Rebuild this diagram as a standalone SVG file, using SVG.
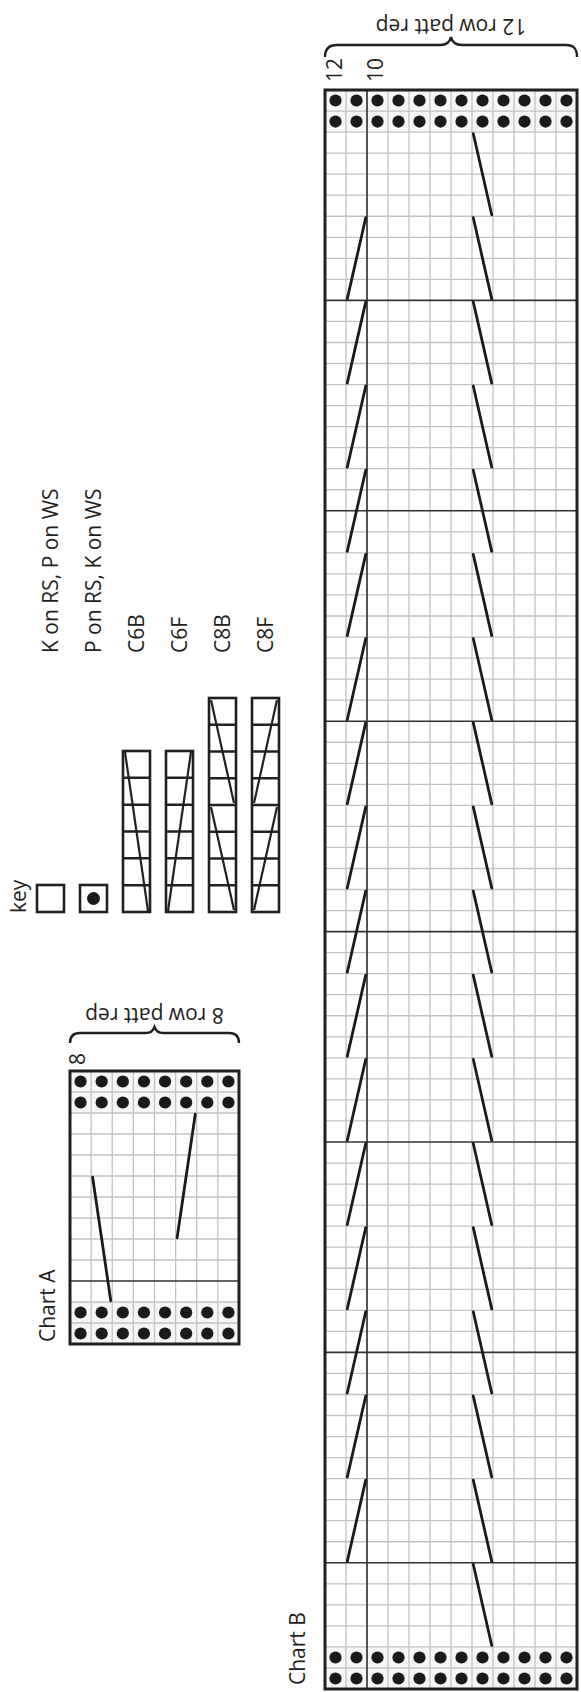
<svg xmlns="http://www.w3.org/2000/svg" width="581" height="1692" viewBox="0 0 581 1692">
<style>
text{font-family:"Open Sans","Noto Sans","Liberation Sans",sans-serif;font-size:21px;fill:#231f20}
.grid{fill:none;stroke:#c2c2c2;stroke-width:1.3}
.heavy{fill:none;stroke:#333;stroke-width:1.6}
.border{fill:none;stroke:#231f20;stroke-width:3}
.cable{fill:none;stroke:#1a1a1a;stroke-width:2.8;stroke-linecap:round}
.dot{fill:#1a1a1a}
.bg{fill:#f6f6f6}
.kbox{fill:#fff;stroke:#231f20;stroke-width:2.6}
.kline{fill:none;stroke:#231f20;stroke-width:2.6}
.kdiag{fill:none;stroke:#231f20;stroke-width:2.2}
.brace{fill:none;stroke:#231f20;stroke-width:2.4}
</style>
<defs>
<circle id="d" r="0.29" class="dot"/>
</defs>
<rect width="581" height="1692" fill="#fff"/>

<!-- Key -->
<g id="key">
<text transform="translate(26,913) rotate(-90)">key</text>
<g id="key-knit">
<rect class="kbox" x="37" y="885" width="27" height="27"/>
<text transform="translate(58,653) rotate(-90)">K on RS, P on WS</text>
</g>
<g id="key-purl">
<rect class="kbox" x="80" y="885" width="27" height="27"/>
<circle cx="93.5" cy="898.5" r="6.5" class="dot"/>
<text transform="translate(101,653) rotate(-90)">P on RS, K on WS</text>
</g>
<g id="key-c6b">
<rect class="kbox" x="123" y="751" width="27" height="161"/>
<path class="kline" d="M123,777.8H150M123,804.7H150M123,831.5H150M123,858.3H150M123,885.2H150"/>
<path class="kdiag" d="M125,752L148,911"/>
<text transform="translate(144,653) rotate(-90)">C6B</text>
</g>
<g id="key-c6f">
<rect class="kbox" x="166" y="751" width="27" height="161"/>
<path class="kline" d="M166,777.8H193M166,804.7H193M166,831.5H193M166,858.3H193M166,885.2H193"/>
<path class="kdiag" d="M191,752L168,911"/>
<text transform="translate(187,653) rotate(-90)">C6F</text>
</g>
<g id="key-c8b">
<rect class="kbox" x="209" y="698" width="27" height="214"/>
<path class="kline" d="M209,724.75H236M209,751.5H236M209,778.25H236M209,805H236M209,831.75H236M209,858.5H236M209,885.25H236"/>
<path class="kdiag" d="M211,700L234,803M211,807L234,910"/>
<text transform="translate(230,653) rotate(-90)">C8B</text>
</g>
<g id="key-c8f">
<rect class="kbox" x="252" y="698" width="27" height="214"/>
<path class="kline" d="M252,724.75H279M252,751.5H279M252,778.25H279M252,805H279M252,831.75H279M252,858.5H279M252,885.25H279"/>
<path class="kdiag" d="M277,700L254,803M277,807L254,910"/>
<text transform="translate(273,653) rotate(-90)">C8F</text>
</g>
</g>

<!-- Chart A -->
<g id="chartA-labels">
<path class="brace" d="M70,1043C70,1036 73,1033 80,1033L146,1033C151,1033 153,1031 154.5,1027C156,1031 158,1033 163,1033L229,1033C236,1033 239,1036 239,1043"/>
<text transform="translate(154.5,1008) rotate(180)" text-anchor="middle">8 row patt rep</text>
<text transform="translate(85,1065) rotate(-90)">8</text>
<text transform="translate(55,1342) rotate(-90)">Chart A</text>
</g>
<g id="chartA" transform="translate(70,1071) scale(21.125,21)">
<rect class="bg" x="0" y="0" width="8" height="2"/>
<rect class="bg" x="0" y="11" width="8" height="2"/>
<path class="grid" vector-effect="non-scaling-stroke" d="M1,0V13M2,0V13M3,0V13M4,0V13M5,0V13M6,0V13M7,0V13M0,1H8M0,2H8M0,3H8M0,4H8M0,5H8M0,6H8M0,7H8M0,8H8M0,9H8M0,11H8M0,12H8"/>
<path class="heavy" vector-effect="non-scaling-stroke" d="M0,10H8"/>
<g>
<use href="#d" x="0.5" y="0.5"/><use href="#d" x="1.5" y="0.5"/><use href="#d" x="2.5" y="0.5"/><use href="#d" x="3.5" y="0.5"/><use href="#d" x="4.5" y="0.5"/><use href="#d" x="5.5" y="0.5"/><use href="#d" x="6.5" y="0.5"/><use href="#d" x="7.5" y="0.5"/>
<use href="#d" x="0.5" y="1.5"/><use href="#d" x="1.5" y="1.5"/><use href="#d" x="2.5" y="1.5"/><use href="#d" x="3.5" y="1.5"/><use href="#d" x="4.5" y="1.5"/><use href="#d" x="5.5" y="1.5"/><use href="#d" x="6.5" y="1.5"/><use href="#d" x="7.5" y="1.5"/>
<use href="#d" x="0.5" y="11.5"/><use href="#d" x="1.5" y="11.5"/><use href="#d" x="2.5" y="11.5"/><use href="#d" x="3.5" y="11.5"/><use href="#d" x="4.5" y="11.5"/><use href="#d" x="5.5" y="11.5"/><use href="#d" x="6.5" y="11.5"/><use href="#d" x="7.5" y="11.5"/>
<use href="#d" x="0.5" y="12.5"/><use href="#d" x="1.5" y="12.5"/><use href="#d" x="2.5" y="12.5"/><use href="#d" x="3.5" y="12.5"/><use href="#d" x="4.5" y="12.5"/><use href="#d" x="5.5" y="12.5"/><use href="#d" x="6.5" y="12.5"/><use href="#d" x="7.5" y="12.5"/>
</g>
<path class="cable" vector-effect="non-scaling-stroke" d="M5.93,2.06L5.07,7.94M1.07,5.06L1.93,10.94"/>
<rect class="border" vector-effect="non-scaling-stroke" x="0" y="0" width="8" height="13"/>
</g>

<!-- Chart B -->
<g id="chartB-labels">
<path class="brace" d="M325,57C325,49 329,45 337,45L440,45C446,45 450,42 451,37C452,42 456,45 462,45L566,45C574,45 577,49 577,57"/>
<text transform="translate(451,19) rotate(180)" text-anchor="middle">12 row patt rep</text>
<text transform="translate(342,82) rotate(-90)">12</text>
<text transform="translate(383,82) rotate(-90)">10</text>
<text transform="translate(305,1685) rotate(-90)">Chart B</text>
</g>
<g id="chartB" transform="translate(325,90) scale(21,21.04)">
<rect class="bg" x="0" y="0" width="12" height="2"/>
<rect class="bg" x="0" y="74" width="12" height="2"/>
<path class="grid" vector-effect="non-scaling-stroke" d="M1,0V76M2,0V76M3,0V76M4,0V76M5,0V76M6,0V76M7,0V76M8,0V76M9,0V76M10,0V76M11,0V76
M0,1H12M0,2H12M0,3H12M0,4H12M0,5H12M0,6H12M0,7H12M0,8H12M0,9H12
M0,11H12M0,12H12M0,13H12M0,14H12M0,15H12M0,16H12M0,17H12M0,18H12M0,19H12
M0,21H12M0,22H12M0,23H12M0,24H12M0,25H12M0,26H12M0,27H12M0,28H12M0,29H12
M0,31H12M0,32H12M0,33H12M0,34H12M0,35H12M0,36H12M0,37H12M0,38H12M0,39H12
M0,41H12M0,42H12M0,43H12M0,44H12M0,45H12M0,46H12M0,47H12M0,48H12M0,49H12
M0,51H12M0,52H12M0,53H12M0,54H12M0,55H12M0,56H12M0,57H12M0,58H12M0,59H12
M0,61H12M0,62H12M0,63H12M0,64H12M0,65H12M0,66H12M0,67H12M0,68H12M0,69H12
M0,71H12M0,72H12M0,73H12M0,74H12M0,75H12"/>
<path class="heavy" vector-effect="non-scaling-stroke" d="M2,0V76M0,10H12M0,20H12M0,30H12M0,40H12M0,50H12M0,60H12M0,70H12"/>
<g>
<use href="#d" x="0.5" y="0.5"/><use href="#d" x="1.5" y="0.5"/><use href="#d" x="2.5" y="0.5"/><use href="#d" x="3.5" y="0.5"/><use href="#d" x="4.5" y="0.5"/><use href="#d" x="5.5" y="0.5"/><use href="#d" x="6.5" y="0.5"/><use href="#d" x="7.5" y="0.5"/><use href="#d" x="8.5" y="0.5"/><use href="#d" x="9.5" y="0.5"/><use href="#d" x="10.5" y="0.5"/><use href="#d" x="11.5" y="0.5"/>
<use href="#d" x="0.5" y="1.5"/><use href="#d" x="1.5" y="1.5"/><use href="#d" x="2.5" y="1.5"/><use href="#d" x="3.5" y="1.5"/><use href="#d" x="4.5" y="1.5"/><use href="#d" x="5.5" y="1.5"/><use href="#d" x="6.5" y="1.5"/><use href="#d" x="7.5" y="1.5"/><use href="#d" x="8.5" y="1.5"/><use href="#d" x="9.5" y="1.5"/><use href="#d" x="10.5" y="1.5"/><use href="#d" x="11.5" y="1.5"/>
<use href="#d" x="0.5" y="74.5"/><use href="#d" x="1.5" y="74.5"/><use href="#d" x="2.5" y="74.5"/><use href="#d" x="3.5" y="74.5"/><use href="#d" x="4.5" y="74.5"/><use href="#d" x="5.5" y="74.5"/><use href="#d" x="6.5" y="74.5"/><use href="#d" x="7.5" y="74.5"/><use href="#d" x="8.5" y="74.5"/><use href="#d" x="9.5" y="74.5"/><use href="#d" x="10.5" y="74.5"/><use href="#d" x="11.5" y="74.5"/>
<use href="#d" x="0.5" y="75.5"/><use href="#d" x="1.5" y="75.5"/><use href="#d" x="2.5" y="75.5"/><use href="#d" x="3.5" y="75.5"/><use href="#d" x="4.5" y="75.5"/><use href="#d" x="5.5" y="75.5"/><use href="#d" x="6.5" y="75.5"/><use href="#d" x="7.5" y="75.5"/><use href="#d" x="8.5" y="75.5"/><use href="#d" x="9.5" y="75.5"/><use href="#d" x="10.5" y="75.5"/><use href="#d" x="11.5" y="75.5"/>
</g>
<path class="cable" vector-effect="non-scaling-stroke" d="M7.06,2.07L7.94,5.93M7.06,6.07L7.94,9.93M7.06,10.07L7.94,13.93M7.06,14.07L7.94,17.93M7.06,18.07L7.94,21.93M7.06,22.07L7.94,25.93M7.06,26.07L7.94,29.93M7.06,30.07L7.94,33.93M7.06,34.07L7.94,37.93M7.06,38.07L7.94,41.93M7.06,42.07L7.94,45.93M7.06,46.07L7.94,49.93M7.06,50.07L7.94,53.93M7.06,54.07L7.94,57.93M7.06,58.07L7.94,61.93M7.06,62.07L7.94,65.93M7.06,66.07L7.94,69.93M7.06,70.07L7.94,73.93
M1.94,6.07L1.06,9.93M1.94,10.07L1.06,13.93M1.94,14.07L1.06,17.93M1.94,18.07L1.06,21.93M1.94,22.07L1.06,25.93M1.94,26.07L1.06,29.93M1.94,30.07L1.06,33.93M1.94,34.07L1.06,37.93M1.94,38.07L1.06,41.93M1.94,42.07L1.06,45.93M1.94,46.07L1.06,49.93M1.94,50.07L1.06,53.93M1.94,54.07L1.06,57.93M1.94,58.07L1.06,61.93M1.94,62.07L1.06,65.93M1.94,66.07L1.06,69.93"/>
<rect class="border" vector-effect="non-scaling-stroke" x="0" y="0" width="12" height="76"/>
</g>
</svg>
